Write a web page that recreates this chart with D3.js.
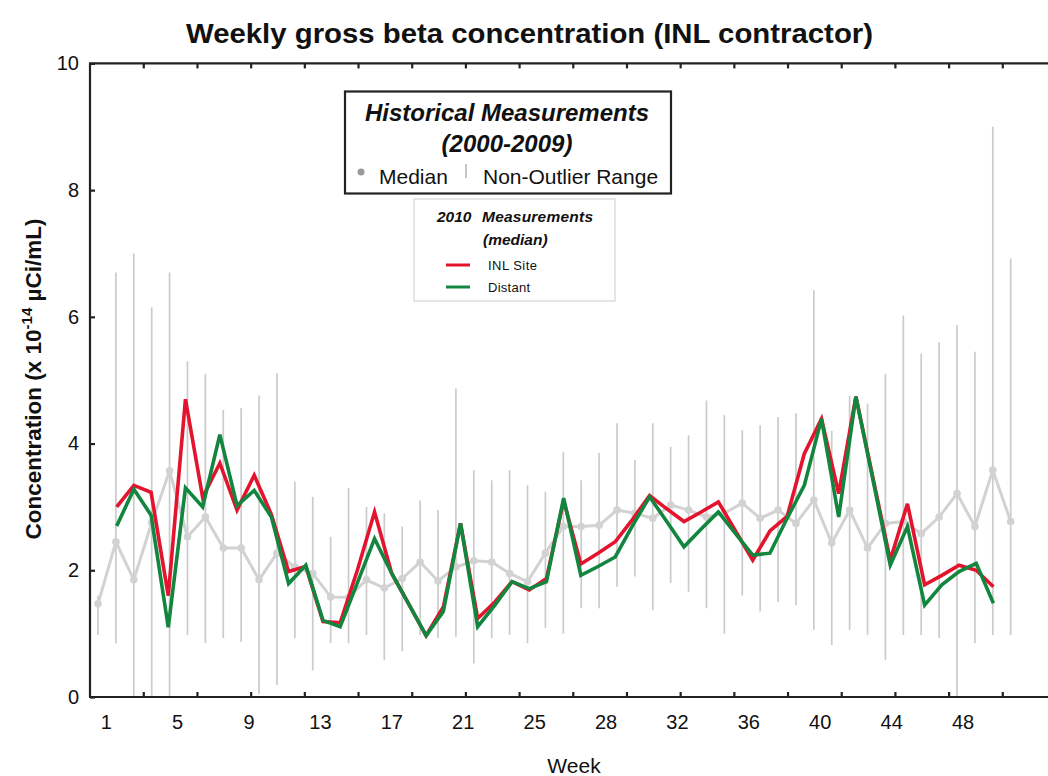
<!DOCTYPE html>
<html><head><meta charset="utf-8">
<script src="https://cdn.jsdelivr.net/npm/d3@7/dist/d3.min.js"></script>
<style>
html,body{margin:0;padding:0;background:#fff;}
svg{display:block;font-family:"Liberation Sans",Arial,sans-serif;}
</style></head><body>
<svg id="chart" width="1048" height="776"></svg>
<script>
// ---- data ----
const histWeeks = [1,2,3,4,5,6,7,8,9,10,11,12,13,14,15,16,17,18,19,20,21,22,23,24,25,26,
                   27,28,29,30,31,32,33,34,35,36,37,38,39,40,41,42,43,44,45,46,47,48,49,50,51,52];
const histMedian = [1.47,2.45,1.85,2.75,3.57,2.53,2.84,2.35,2.35,1.85,2.27,2.05,1.95,1.58,1.57,1.85,
                    1.72,1.87,2.13,1.83,2.05,2.15,2.13,1.95,1.82,2.27,2.69,2.69,2.71,2.95,2.9,2.82,
                    3.03,2.95,2.84,2.9,3.06,2.82,2.95,2.74,3.11,2.43,2.95,2.35,2.74,2.77,2.58,2.84,
                    3.21,2.69,3.58,2.77];
const histLow = [0.98,0.85,0,0,0,0.98,0.85,0.93,0.87,0.05,0.19,0.93,0.42,0.85,0.85,0.98,0.58,0.72,
                 0.98,0.93,0.95,0.53,0.93,0.98,0.85,1.09,1.0,1.4,1.4,1.74,1.9,1.37,1.8,1.66,1.4,1.0,
                 1.6,1.35,1.5,1.45,1.06,0.82,1.06,0.98,0.58,0.98,0.98,0.93,0,0.85,0.98,0.98];
const histHigh = [1.6,6.7,7.0,6.15,6.7,5.3,5.1,4.53,4.56,4.76,5.11,3.4,3.16,2.53,3.3,3.0,2.9,2.69,
                  3.1,2.95,4.87,3.58,3.42,3.58,3.34,3.24,3.87,3.42,3.85,4.32,3.74,4.32,3.95,4.13,
                  4.68,4.45,4.21,4.29,4.42,4.48,6.42,4.2,4.75,4.63,5.1,6.02,5.42,5.6,5.87,5.45,9.0,6.92];
const weeks2010 = [1,2,3,4,5,6,7,8,9,10,11,12,13,14,15,16,17,18,19,20,21,22,23,24,25,26,
                   27,28,29,30,31,32,33,34,35,36,37,38,39,40,41,42,43,44,45,46,47,48,49,50,51,52];
const inlSite = [3.0,3.34,3.23,1.6,4.7,3.15,3.69,2.95,3.5,2.88,1.98,2.06,1.19,1.17,2.0,2.92,1.95,
                 1.46,0.97,1.42,2.74,1.24,1.5,1.82,1.69,1.87,3.1,2.1,2.27,2.45,2.8,3.18,2.97,2.77,
                 2.92,3.08,2.62,2.16,2.62,2.85,3.84,4.39,3.21,4.74,3.45,2.16,3.05,1.77,1.92,2.08,2.0,1.74];
const distant = [2.7,3.28,2.87,1.1,3.3,3.0,4.14,3.02,3.26,2.84,1.79,2.08,1.21,1.11,1.8,2.5,1.95,
                 1.46,0.97,1.35,2.74,1.11,1.45,1.82,1.71,1.82,3.14,1.92,2.06,2.21,2.7,3.16,2.77,2.37,
                 2.65,2.92,2.58,2.24,2.27,2.82,3.34,4.39,2.84,4.74,3.42,2.08,2.69,1.45,1.77,1.98,2.11,1.48];
const xTickLabels = ["1","5","9","13","17","21","25","28","32","36","40","44","48"];
const yTickValues = [0,2,4,6,8,10];

// ---- layout ----
const svg = d3.select("#chart");
const plotL = 90, plotR = 1048, plotT = 63.4, plotB = 697;
const red = "#e3142d", green = "#12863f", grayLine = "#cbcbcb", grayMed = "#d2d2d2";

const y = d3.scaleLinear().domain([0,10]).range([plotB, plotT]);
const xHist = d3.scaleLinear().domain([1,52]).range([98, 1010.7]);
const x2010 = d3.scaleLinear().domain([1,52]).range([116.7, 993.4]);

// axis positions (in historical-week units)
const labelPos = xTickLabels.map((d,i)=> 1.43 + 3.99*i);
const tickPos = d3.range(17).map(k => 3.53 + 3*k);

// ---- historical ranges ----
const hist = histWeeks.map((w,i)=>({w, m:histMedian[i], lo:histLow[i], hi:histHigh[i]}));
svg.append("g").selectAll("line").data(hist).join("line")
  .attr("x1", d=>xHist(d.w)).attr("x2", d=>xHist(d.w))
  .attr("y1", d=>y(d.lo)).attr("y2", d=>y(d.hi))
  .attr("stroke", grayLine).attr("stroke-width", 1.7);

svg.append("path").datum(hist)
  .attr("fill","none").attr("stroke", grayMed).attr("stroke-width", 3)
  .attr("d", d3.line().x(d=>xHist(d.w)).y(d=>y(d.m)));
svg.append("g").selectAll("circle").data(hist).join("circle")
  .attr("cx", d=>xHist(d.w)).attr("cy", d=>y(d.m)).attr("r", 3.8)
  .attr("fill", grayMed);

// ---- 2010 lines ----
const line2010 = d3.line().x((d,i)=>x2010(weeks2010[i])).y(d=>y(d));
svg.append("path").datum(inlSite).attr("fill","none").attr("stroke", red)
  .attr("stroke-width", 3.6).attr("stroke-linejoin","miter").attr("d", line2010);
svg.append("path").datum(distant).attr("fill","none").attr("stroke", green)
  .attr("stroke-width", 3.6).attr("stroke-linejoin","miter").attr("d", line2010);

// ---- frame ----
const frame = svg.append("g").attr("stroke","#222").attr("stroke-width",2.2).attr("fill","none");
frame.append("line").attr("x1",plotL).attr("x2",plotL).attr("y1",plotT).attr("y2",plotB);
frame.append("line").attr("x1",plotL-1).attr("x2",plotR).attr("y1",plotT).attr("y2",plotT);
frame.append("line").attr("x1",plotL-1).attr("x2",plotR).attr("y1",plotB).attr("y2",plotB);

// ---- axes ----
const bt = svg.append("g").attr("transform",`translate(0,${plotB})`)
  .call(d3.axisBottom(xHist).tickValues(tickPos).tickSize(-5).tickFormat(""));
const tt = svg.append("g").attr("transform",`translate(0,${plotT})`)
  .call(d3.axisTop(xHist).tickValues(tickPos).tickSize(-5).tickFormat(""));
const bl = svg.append("g").attr("transform",`translate(0,${plotB})`)
  .call(d3.axisBottom(xHist).tickValues(labelPos).tickSize(0).tickPadding(18)
        .tickFormat((d,i)=>xTickLabels[i]));
const yl = svg.append("g").attr("transform",`translate(${plotL},0)`)
  .call(d3.axisLeft(y).tickValues(yTickValues).tickSize(-5).tickPadding(11).tickFormat(d3.format("d")));
[bt,tt,bl,yl].forEach(g=>{
  g.select(".domain").remove();
  g.selectAll(".tick line").attr("stroke","#222").attr("stroke-width",2.2);
  g.selectAll("text").attr("font-family","Liberation Sans, Arial, sans-serif")
    .attr("font-size",20).attr("fill","#111");
});

// ---- titles ----
svg.append("text").attr("x",529.5).attr("y",43).attr("text-anchor","middle")
  .attr("font-size",28).attr("font-weight","bold").attr("fill","#111")
  .attr("textLength",687).attr("lengthAdjust","spacingAndGlyphs")
  .text("Weekly gross beta concentration (INL contractor)");
svg.append("text").attr("x",574).attr("y",773).attr("text-anchor","middle")
  .attr("font-size",21).attr("fill","#111").text("Week");
const yt = svg.append("text").attr("transform","translate(41,379) rotate(-90)")
  .attr("text-anchor","middle").attr("font-size",22.5).attr("font-weight","bold").attr("fill","#111");
yt.append("tspan").text("Concentration (x 10");
yt.append("tspan").attr("dy",-9).attr("font-size",15).text("-14");
yt.append("tspan").attr("dy",9).text(" \u00B5Ci/mL)");

// ---- legend 1 ----
const lg1 = svg.append("g");
lg1.append("rect").attr("x",345).attr("y",91.5).attr("width",326).attr("height",102)
  .attr("fill","#fff").attr("stroke","#222").attr("stroke-width",2.2);
lg1.append("text").attr("x",507).attr("y",121).attr("text-anchor","middle")
  .attr("font-size",24).attr("font-weight","bold").attr("font-style","italic").attr("fill","#111")
  .text("Historical Measurements");
lg1.append("text").attr("x",507).attr("y",152).attr("text-anchor","middle")
  .attr("font-size",24).attr("font-weight","bold").attr("font-style","italic").attr("fill","#111")
  .text("(2000-2009)");
lg1.append("circle").attr("cx",361).attr("cy",172).attr("r",3.5).attr("fill","#9a9a9a");
lg1.append("text").attr("x",379).attr("y",184).attr("font-size",21).attr("fill","#111").text("Median");
lg1.append("line").attr("x1",466).attr("x2",466).attr("y1",164).attr("y2",178)
  .attr("stroke","#c4c4c4").attr("stroke-width",2);
lg1.append("text").attr("x",483).attr("y",184).attr("font-size",21).attr("fill","#111").text("Non-Outlier Range");

// ---- legend 2 ----
const lg2 = svg.append("g");
lg2.append("rect").attr("x",414).attr("y",199).attr("width",201).attr("height",102)
  .attr("fill","#fff").attr("stroke","#d6d6d6").attr("stroke-width",1.2);
lg2.append("text").attr("x",437).attr("y",222).attr("font-size",15.5).attr("font-weight","bold")
  .attr("font-style","italic").attr("fill","#111").text("2010");
lg2.append("text").attr("x",482).attr("y",222).attr("font-size",15.5).attr("font-weight","bold")
  .attr("font-style","italic").attr("fill","#111").attr("textLength",111).text("Measurements");
lg2.append("text").attr("x",483).attr("y",245).attr("font-size",15.5).attr("font-weight","bold")
  .attr("font-style","italic").attr("fill","#111").text("(median)");
lg2.append("line").attr("x1",446).attr("x2",470).attr("y1",265).attr("y2",265)
  .attr("stroke",red).attr("stroke-width",3);
lg2.append("text").attr("x",488).attr("y",270).attr("font-size",13).attr("fill","#111")
  .attr("textLength",49).text("INL Site");
lg2.append("line").attr("x1",446).attr("x2",470).attr("y1",287).attr("y2",287)
  .attr("stroke",green).attr("stroke-width",3);
lg2.append("text").attr("x",488).attr("y",292).attr("font-size",13).attr("fill","#111")
  .attr("textLength",42).text("Distant");
</script>
</body></html>
